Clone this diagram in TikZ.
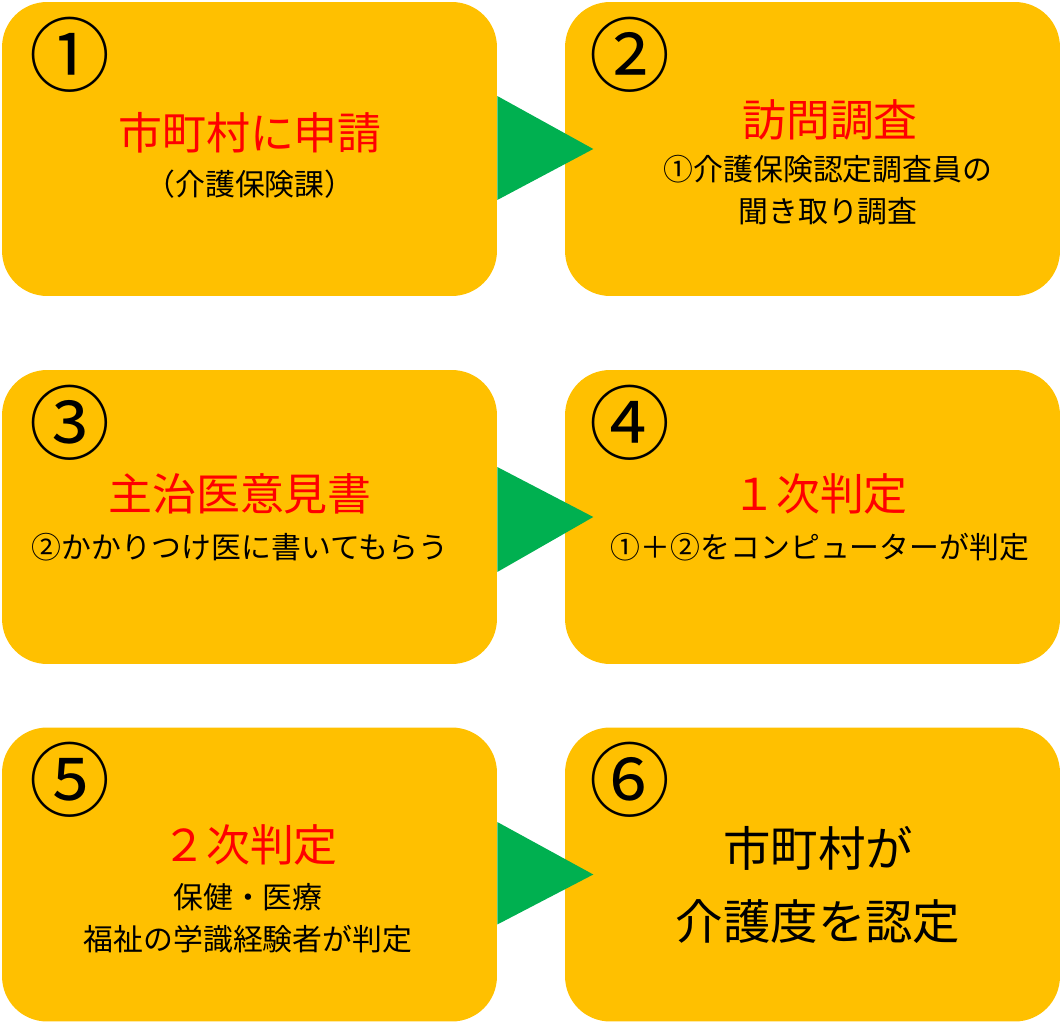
\documentclass[tikz,border=0pt]{standalone}
\usepackage{fontspec}
\newfontfamily\jp{Noto Sans CJK JP}
\usetikzlibrary{positioning}
\definecolor{boxorange}{HTML}{FFC000}
\definecolor{arrowgreen}{HTML}{00B050}
\definecolor{titlered}{HTML}{FF0000}
\begin{document}
\begin{tikzpicture}[x=0.02cm, y=-0.02cm, font=\jp]
	\tikzset{stepbox/.style={fill=boxorange, rounded corners=0.9cm, minimum width=9.9cm, minimum height=5.88cm, inner sep=0pt},
		num/.style={font=\jp\fontsize{46}{46}\selectfont},
		title/.style={text=titlered, font=\jp\fontsize{25}{28}\selectfont},
		sub/.style={font=\jp\fontsize{17}{24}\selectfont, align=center},
		tri/.style={fill=arrowgreen}}
	\useasboundingbox (0,0) rectangle (1061,1023);

	% boxes
	\node[stepbox](Box1) at (249.5, 149) {};
	\node[stepbox](Box2) at (812.5, 149) {};
	\node[stepbox](Box3) at (249.5, 517) {};
	\node[stepbox](Box4) at (812.5, 517) {};
	\node[stepbox](Box5) at (249.5, 874.5) {};
	\node[stepbox](Box6) at (812.5, 874.5) {};

	% arrows
	\fill[tri]([yshift=1.06cm]Box1.east)--([xshift=1.92cm]Box1.east)--([yshift=-1.02cm]Box1.east)--cycle;
	\fill[tri]([yshift=1.0cm]Box3.east)--([xshift=1.92cm]Box3.east)--([yshift=-1.1cm]Box3.east)--cycle;
	\fill[tri]([yshift=1.05cm]Box5.east)--([xshift=1.92cm]Box5.east)--([yshift=-1.0cm]Box5.east)--cycle;

	% numbers
	\node[num](Num1) at (70, 55) {①};
	\node[num](Num2) at (630, 55) {②};
	\node[num](Num3) at (70, 423) {③};
	\node[num](Num4) at (630, 423) {④};
	\node[num](Num5) at (70, 780) {⑤};
	\node[num](Num6) at (630, 780) {⑥};

	% texts
	\node[title](Title1) at (250, 133) {市町村に申請};
	\node[sub](Sub1) at (250, 184) {（介護保険課）};
	\node[title](Title2) at (830, 120) {訪問調査};
	\node[sub](Sub2) at (828, 190) {①介護保険認定調査員の\\聞き取り調査};
	\node[title](Title3) at (240, 494) {主治医意見書};
	\node[sub](Sub3) at (240, 547) {②かかりつけ医に書いてもらう};
	\node[title](Title4) at (820, 494) {１次判定};
	\node[sub](Sub4) at (820, 547) {①＋②をコンピューターが判定};
	\node[title](Title5) at (250, 845) {２次判定};
	\node[sub](Sub5) at (248, 918) {保健・医療\\福祉の学識経験者が判定};
	\node[align=center, font=\jp\fontsize{27}{42}\selectfont](Text6) at (818, 885) {市町村が\\介護度を認定};
\end{tikzpicture}
\end{document}
